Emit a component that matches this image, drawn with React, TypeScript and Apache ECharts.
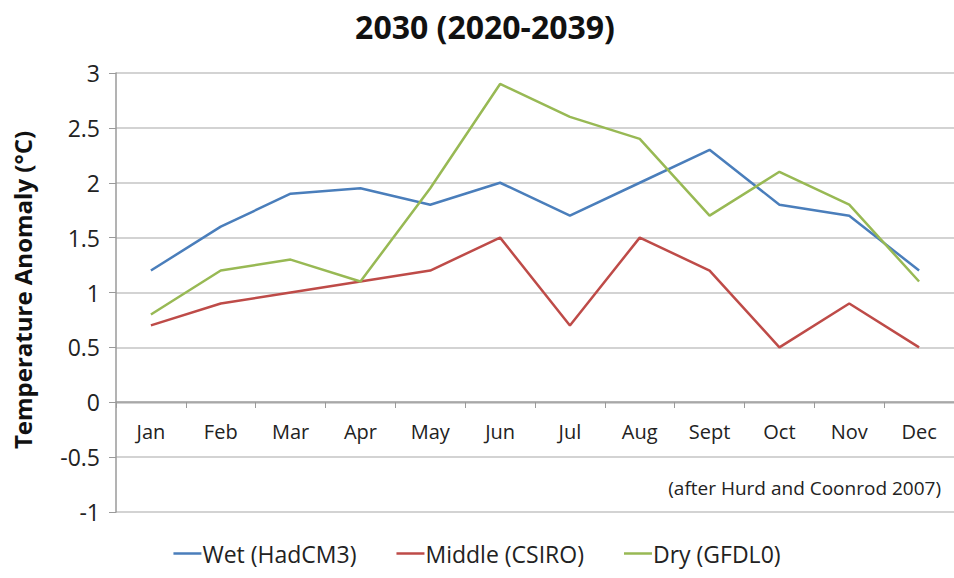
import React, { useEffect, useRef } from "react";
import * as echarts from "echarts";

const months = ["Jan", "Feb", "Mar", "Apr", "May", "Jun", "Jul", "Aug", "Sept", "Oct", "Nov", "Dec"];
const wet = [1.2, 1.6, 1.9, 1.95, 1.8, 2.0, 1.7, 2.0, 2.3, 1.8, 1.7, 1.2];
const middle = [0.7, 0.9, 1.0, 1.1, 1.2, 1.5, 0.7, 1.5, 1.2, 0.5, 0.9, 0.5];
const dry = [0.8, 1.2, 1.3, 1.1, 1.95, 2.9, 2.6, 2.4, 1.7, 2.1, 1.8, 1.1];
const seriesNames = ["Wet (HadCM3)", "Middle (CSIRO)", "Dry (GFDL0)"];
const seriesColors = ["#4A7EBB", "#BE4B48", "#98B954"];

const FONT = "'Open Sans', sans-serif";

export default function App() {
  const ref = useRef<HTMLDivElement>(null);
  useEffect(() => {
    if (!ref.current) return;
    const chart = echarts.init(ref.current, null, { renderer: "svg" });
    const data = [wet, middle, dry];
    chart.setOption({
      animation: false,
      backgroundColor: "#ffffff",
      title: {
        text: "2030 (2020-2039)",
        left: 480,
        textAlign: "center",
        top: 5,
        textStyle: { fontFamily: FONT, fontWeight: "bold", fontSize: 32, color: "#111" },
      },
      grid: { left: 116, top: 73, width: 843, height: 439, containLabel: false },
      legend: {
        top: 537,
        left: "center",
        icon: "rect",
        itemWidth: 28,
        itemHeight: 2.5,
        itemGap: 40,
        textStyle: { fontFamily: FONT, fontSize: 23, color: "#222", padding: [0, 0, 0, -4] },
        data: seriesNames,
      },
      xAxis: {
        type: "category",
        data: months,
        boundaryGap: true,
        position: "bottom",
        offset: -110,
        axisLine: { onZero: false, lineStyle: { color: "#9a9a9a", width: 1.5 } },
        axisTick: { show: true, interval: 0, length: 6, alignWithLabel: false, lineStyle: { color: "#9a9a9a" } },
        axisLabel: { margin: 19, fontFamily: FONT, fontSize: 20, color: "#222", interval: 0 },
        splitLine: { show: false },
      },
      yAxis: {
        type: "value",
        min: -1,
        max: 3,
        interval: 0.5,
        axisLine: { show: true, lineStyle: { color: "#9a9a9a", width: 1.5 } },
        axisTick: { show: true, length: 7, lineStyle: { color: "#9a9a9a" } },
        axisLabel: { margin: 16, fontFamily: FONT, fontSize: 23, color: "#222" },
        splitLine: { show: true, lineStyle: { color: "#c4c4c4", width: 1.5 } },
      },
      graphic: [
        {
          type: "text",
          x: 22,
          y: 290,
          rotation: Math.PI / 2,
          style: {
            text: "Temperature Anomaly (°C)",
            fontFamily: FONT,
            fontWeight: "bold",
            fontSize: 24,
            fill: "#111",
            textAlign: "center",
            textVerticalAlign: "middle",
          },
        },
        {
          type: "text",
          x: 941,
          y: 488,
          style: {
            text: "(after Hurd and Coonrod 2007)",
            fontFamily: FONT,
            fontSize: 19,
            fill: "#222",
            textAlign: "right",
            textVerticalAlign: "middle",
          },
        },
      ],
      series: data.map((d, i) => ({
        name: seriesNames[i],
        type: "line",
        data: d,
        symbol: "none",
        lineStyle: { color: seriesColors[i], width: 2.5 },
        itemStyle: { color: seriesColors[i] },
      })),
    });
    return () => chart.dispose();
  }, []);
  return <div ref={ref} style={{ position: "fixed", left: 0, top: 0, width: 954, height: 578 }} />;
}
